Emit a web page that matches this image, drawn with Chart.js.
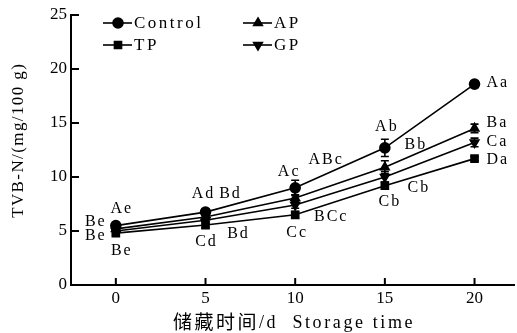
<!DOCTYPE html>
<html><head><meta charset="utf-8">
<script src="https://cdn.jsdelivr.net/npm/chart.js@4/dist/chart.umd.min.js"></script>
<style>html,body{margin:0;padding:0;background:#fff}#w{width:517px;height:333px;position:relative}</style>
</head><body><div id="w"><canvas id="c" width="517" height="333"></canvas></div>
<script>
const days = [0, 5, 10, 15, 20];
const seriesNames = ["Control", "TP", "AP", "GP"];
const controlVals = [5.5, 6.75, 9.0, 12.7, 18.6];
const tpVals = [4.8, 5.55, 6.5, 9.2, 11.7];
const apVals = [5.2, 6.3, 8.05, 10.9, 14.5];
const gpVals = [5.0, 6.0, 7.4, 10.0, 13.2];
const controlErr = [0.2, 0.3, 0.7, 0.8, 0.3];
const tpErr = [0.2, 0.3, 0.3, 0.3, 0.2];
const apErr = [0.2, 0.3, 0.3, 0.6, 0.4];
const gpErr = [0.2, 0.3, 0.3, 0.5, 0.4];
const controlSig = ["Ae", "Ad", "Ac", "Ab", "Aa"];
const tpSig = ["Be", "Cd", "Cc", "Cb", "Da"];
const apSig = ["Be", "Bd", "ABc", "Bb", "Ba"];
const gpSig = ["Be", "Bd", "BCc", "Cb", "Ca"];
const yTicks = [0, 5, 10, 15, 20, 25];
const yTitle = "TVB-N/(mg/100 g)";
const xTitleCn = "储藏时间";
const xTitleEn = "/d  Storage time";

const SERIF = '"Liberation Serif", serif';
const CJK = '"Noto Sans CJK SC", sans-serif';

// label pixel offsets (dx, dy) from the point; day-20 labels are left-aligned
const labelOffsets = {
  Control: [[5,-17],[-3,-18],[-7,-16],[1,-21],[12,-1]],
  TP: [[5,18],[0,17],[1,18],[4,16],[12,1]],
  AP: [[-21,-7],[24,-23],[30,-38],[30,-22],[12,-6]],
  GP: [[-21,5],[32,14],[35,12],[33,11],[12,-1]]
};

function ds(name, vals, style, rot) {
  return {label: name, data: days.map((d,i)=>({x:d, y:vals[i]})), borderColor:'#000', backgroundColor:'#000',
    borderWidth:1.6, pointStyle: style, pointRotation: rot||0, pointRadius: 5, pointHoverRadius:5, tension:0};
}
const errs = {Control: controlErr, TP: tpErr, AP: apErr, GP: gpErr};
const sigs = {Control: controlSig, TP: tpSig, AP: apSig, GP: gpSig};

function spacedCenter(ctx, txt, x, y, sp) {
  ctx.letterSpacing = sp + 'px';
  const w = ctx.measureText(txt).width - sp;
  ctx.textAlign = 'left';
  ctx.fillText(txt, x - w / 2, y);
}

const overlay = {
  id: 'overlay',
  beforeDatasetsDraw(chart) {
    const ctx = chart.ctx, xs = chart.scales.x, ys = chart.scales.y;
    ctx.save();
    ctx.strokeStyle = '#000'; ctx.lineWidth = 1.6;
    chart.data.datasets.forEach(d => {
      const e = errs[d.label];
      d.data.forEach((p, i) => {
        const px = xs.getPixelForValue(p.x);
        const t = ys.getPixelForValue(p.y + e[i]), b = ys.getPixelForValue(p.y - e[i]);
        ctx.beginPath();
        ctx.moveTo(px, t); ctx.lineTo(px, b);
        ctx.moveTo(px-4, t); ctx.lineTo(px+4, t);
        ctx.moveTo(px-4, b); ctx.lineTo(px+4, b);
        ctx.stroke();
      });
    });
    ctx.restore();
  },
  afterDraw(chart) {
    const ctx = chart.ctx, xs = chart.scales.x, ys = chart.scales.y, ca = chart.chartArea;
    ctx.save();
    ctx.strokeStyle = '#000'; ctx.lineWidth = 2;
    ctx.beginPath();
    ctx.moveTo(ca.left, ca.top - 1); ctx.lineTo(ca.left, ca.bottom); ctx.lineTo(chart.width - 2, ca.bottom);
    ctx.stroke();
    days.forEach(d => {
      const px = xs.getPixelForValue(d);
      ctx.beginPath(); ctx.moveTo(px, ca.bottom); ctx.lineTo(px, ca.bottom - 7); ctx.stroke();
    });
    yTicks.forEach(v => {
      const py = ys.getPixelForValue(v);
      ctx.beginPath(); ctx.moveTo(ca.left, py); ctx.lineTo(ca.left + 8, py); ctx.stroke();
    });
    ctx.fillStyle = '#000';
    ctx.font = '16px ' + SERIF;
    ctx.textBaseline = 'middle';
    chart.data.datasets.forEach(d => {
      const s = sigs[d.label], off = labelOffsets[d.label];
      d.data.forEach((p, i) => {
        const px = xs.getPixelForValue(p.x), py = ys.getPixelForValue(p.y);
        if (i === 4) {
          ctx.letterSpacing = '2px'; ctx.textAlign = 'left';
          ctx.fillText(s[i], px + off[i][0], py + off[i][1]);
        } else {
          spacedCenter(ctx, s[i], px + off[i][0], py + off[i][1], 2);
        }
      });
    });
    // y title
    ctx.font = '17px ' + SERIF;
    ctx.save();
    ctx.translate(19, 141); ctx.rotate(-Math.PI/2);
    spacedCenter(ctx, yTitle, 0, 0, 1.4);
    ctx.restore();
    // x title
    ctx.textAlign = 'left';
    ctx.font = '19px ' + CJK;
    ctx.letterSpacing = '2.5px';
    ctx.fillText(xTitleCn, 173, 322);
    const w = ctx.measureText(xTitleCn).width;
    ctx.font = '18px ' + SERIF;
    ctx.letterSpacing = '2.6px';
    ctx.fillText(xTitleEn, 173 + w, 323);
    // legend
    ctx.letterSpacing = '2.5px';
    ctx.font = '17px ' + SERIF;
    const leg = [[103, 23, 0], [243, 23, 2], [103, 45, 1], [243, 45, 3]];
    leg.forEach(([lx, ly, di]) => {
      const d = chart.data.datasets[di];
      ctx.lineWidth = 1.6;
      ctx.beginPath(); ctx.moveTo(lx, ly); ctx.lineTo(lx + 29, ly); ctx.stroke();
      Chart.helpers.drawPoint(ctx, {pointStyle: d.pointStyle, rotation: d.pointRotation, radius: 5, borderWidth: 1}, lx + 15, ly);
      ctx.fill();
      ctx.textAlign = 'left';
      ctx.fillText(d.label, lx + 31, ly + 1);
    });
    ctx.restore();
  }
};

new Chart(document.getElementById('c'), {
  type: 'line',
  data: { datasets: [
    ds(seriesNames[0], controlVals, 'circle'),
    ds(seriesNames[1], tpVals, 'rect'),
    ds(seriesNames[2], apVals, 'triangle'),
    ds(seriesNames[3], gpVals, 'triangle', 180)
  ]},
  options: {
    responsive: false, animation: false, events: [],
    layout: { padding: { left: 0, top: 15, right: 0, bottom: 0 } },
    plugins: { legend: { display: false }, tooltip: { enabled: false } },
    scales: {
      x: { type: 'linear', min: -2.5, max: 22.0,
        afterBuildTicks: s => { s.ticks = days.map(v => ({value: v})); },
        afterFit: s => { s.height = 48; },
        grid: { display: false, drawTicks: false },
        border: { display: false },
        ticks: { color: '#000', padding: 3, font: { family: SERIF, size: 17 }, maxRotation: 0 } },
      y: { type: 'linear', min: 0, max: 25,
        afterBuildTicks: s => { s.ticks = yTicks.map(v => ({value: v})); },
        afterFit: s => { s.width = 71; },
        grid: { display: false, drawTicks: false },
        border: { display: false },
        ticks: { color: '#000', padding: 4, font: { family: SERIF, size: 17 } } }
    }
  },
  plugins: [overlay]
});
</script></body></html>
